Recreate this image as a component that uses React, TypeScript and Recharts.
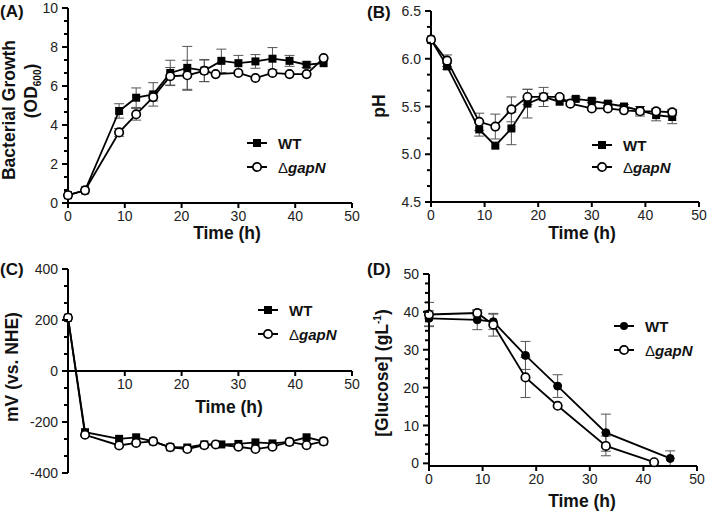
import React from 'react';
import { LineChart, Line, XAxis, YAxis, ErrorBar, ReferenceLine } from 'recharts';

// (A) bacterial growth, OD600
const growthWtTime = [0, 3, 9, 12, 15, 18, 21, 24, 27, 30, 33, 36, 39, 42, 45];
const growthWt = [0.4, 0.65, 4.72, 5.4, 5.57, 6.67, 6.93, 6.79, 7.29, 7.17, 7.26, 7.4, 7.29, 7.09, 7.17];
const growthWtErr = [0, 0, 0.37, 0.5, 0.6, 0.65, 1.1, 0.57, 0.6, 0.4, 0.35, 0.57, 0.28, 0.15, 0];
const growthGapTime = [0, 3, 9, 12, 15, 18, 21, 24, 26, 30, 33, 36, 39, 42, 45];
const growthGap = [0.4, 0.65, 3.62, 4.55, 5.43, 6.5, 6.55, 6.78, 6.61, 6.67, 6.41, 6.67, 6.61, 6.61, 7.43];
const growthGapErr = [0, 0, 0.2, 0.3, 0.2, 0.45, 0.77, 0.55, 0, 0, 0, 0, 0, 0, 0];

// (B) pH
const phWtTime = [0, 3, 9, 12, 15, 18, 21, 24, 27, 30, 33, 36, 39, 42, 45];
const phWt = [6.2, 5.92, 5.26, 5.09, 5.27, 5.53, 5.6, 5.55, 5.58, 5.56, 5.53, 5.5, 5.46, 5.41, 5.39];
const phWtErr = [0, 0.03, 0.07, 0, 0.17, 0.15, 0.04, 0, 0.02, 0.02, 0.02, 0.02, 0.04, 0.06, 0.07];
const phGapTime = [0, 3, 9, 12, 15, 18, 21, 24, 26, 30, 33, 36, 39, 42, 45];
const phGap = [6.2, 5.98, 5.34, 5.29, 5.47, 5.6, 5.6, 5.6, 5.53, 5.48, 5.48, 5.46, 5.45, 5.45, 5.44];
const phGapErr = [0, 0.06, 0.09, 0.13, 0.13, 0.08, 0.1, 0.02, 0, 0, 0, 0, 0.05, 0.03, 0.03];

// (C) redox potential, mV vs. NHE
const mvWtTime = [0, 3, 9, 12, 15, 18, 21, 24, 27, 30, 33, 36, 39, 42, 45];
const mvWt = [209, -240, -266, -260, -276, -299, -300, -288, -288, -286, -280, -284, -278, -260, -276];
const mvWtErr = [0, 0, 0, 0, 0, 0, 0, 0, 0, 0, 0, 0, 0, 0, 0];
const mvGapTime = [0, 3, 9, 12, 15, 18, 21, 24, 26, 30, 33, 36, 39, 42, 45];
const mvGap = [209, -250, -292, -282, -276, -299, -306, -291, -288, -297, -306, -297, -278, -291, -276];
const mvGapErr = [0, 0, 0, 0, 0, 0, 0, 0, 0, 0, 0, 0, 0, 0, 0];

// (D) glucose, g/L
const gluWtTime = [0, 9, 12, 18, 24, 33, 45];
const gluWt = [38.3, 37.9, 37.4, 28.5, 20.4, 8.1, 1.3];
const gluWtErr = [2, 2.6, 2, 3.7, 3, 4.9, 2];
const gluGapTime = [0, 9, 12, 18, 24, 33, 42];
const gluGap = [39.3, 39.7, 36.6, 22.7, 15.2, 4.6, 0.3];
const gluGapErr = [3.2, 0.8, 3, 5.3, 0, 2.6, 0];

// axes
const timeTicks = [0, 10, 20, 30, 40, 50];
const timeTicksNoZero = [10, 20, 30, 40, 50];
const growthTicks = [0, 2, 4, 6, 8, 10];
const phTicks = [4.5, 5.0, 5.5, 6.0, 6.5];
const mvTicks = [-400, -200, 0, 200, 400];
const gluTicks = [0, 10, 20, 30, 40, 50];

const FONT = '"Liberation Sans", Arial, sans-serif';

type Marker = 'square' | 'open' | 'filled';
type Series = { name: string; t: number[]; v: number[]; e: number[]; marker: Marker };
type Box = { left: number; top: number; right: number; bottom: number };

const withMinor = (majors: number[], n: number) => {
  const out: number[] = [];
  for (let i = 0; i < majors.length; i++) {
    out.push(majors[i]);
    if (i < majors.length - 1) {
      const step = (majors[i + 1] - majors[i]) / (n + 1);
      for (let k = 1; k <= n; k++) out.push(majors[i] + step * k);
    }
  }
  return out;
};

const YTick = (props: any) => {
  const { x, y, payload, majors, fmt } = props;
  const major = majors.some((m: number) => Math.abs(m - payload.value) < 1e-6);
  return (
    <g>
      <line x1={x - (major ? 6 : 4)} x2={x} y1={y} y2={y} stroke="#000" strokeWidth={2} />
      {major && (
        <text x={x - 10} y={y} dy="0.36em" textAnchor="end" fontSize={14} fill="#222" fontFamily={FONT}>
          {fmt(payload.value)}
        </text>
      )}
    </g>
  );
};

const XTick = (props: any) => {
  const { x, y, payload, shift } = props;
  const yy = y - shift;
  return (
    <g>
      <line x1={x} x2={x} y1={yy} y2={yy + 5} stroke="#000" strokeWidth={2} />
      <text x={x} y={yy + 18} textAnchor="middle" fontSize={14} fill="#222" fontFamily={FONT}>
        {payload.value}
      </text>
    </g>
  );
};

const SquareDot = (p: any) =>
  p.cx == null ? <g key={p.key} /> : <rect key={p.key} x={p.cx - 4} y={p.cy - 4} width={8} height={8} fill="#000" />;

const dotFor = (m: Marker) => {
  if (m === 'square') return SquareDot;
  if (m === 'filled') return { r: 4, fill: '#000', stroke: '#000', strokeWidth: 1 };
  return { r: 4.2, fill: '#fff', stroke: '#000', strokeWidth: 1.7 };
};

type PanelProps = {
  box: Box;
  xTicks: number[];
  yMajors: number[];
  yMinor: number;
  yFmt: (v: number) => string;
  series: Series[];
  zeroAxis?: boolean;
};

const Panel = ({ box, xTicks, yMajors, yMinor, yFmt, series, zeroAxis }: PanelProps) => {
  const plotW = box.right - box.left;
  const plotH = box.bottom - box.top;
  const yMin = yMajors[0];
  const yMax = yMajors[yMajors.length - 1];
  const shift = zeroAxis ? (plotH * (0 - yMin)) / (yMax - yMin) : 0;
  return (
    <div style={{ position: 'absolute', left: box.left - 70, top: box.top - 20 }}>
      <LineChart width={plotW + 80} height={plotH + 50} margin={{ top: 20, right: 10, bottom: 0, left: 0 }}>
        <XAxis
          type="number"
          dataKey="t"
          domain={[0, 50]}
          ticks={xTicks}
          interval={0}
          height={30}
          tickSize={0}
          tickMargin={0}
          axisLine={zeroAxis ? false : { stroke: '#000', strokeWidth: 2 }}
          tick={(p: any) => <XTick {...p} shift={shift} />}
        />
        <YAxis
          type="number"
          domain={[yMin, yMax]}
          ticks={withMinor(yMajors, yMinor)}
          interval={0}
          width={70}
          tickSize={0}
          tickMargin={0}
          axisLine={{ stroke: '#000', strokeWidth: 2 }}
          tick={(p: any) => <YTick {...p} majors={yMajors} fmt={yFmt} />}
        />
        {zeroAxis && <ReferenceLine y={0} stroke="#000" strokeWidth={2} />}
        {series.map((s) => (
          <Line
            key={s.name}
            data={s.t.map((t, i) => ({ t, v: s.v[i], e: s.e[i] }))}
            dataKey="v"
            name={s.name}
            stroke="#000"
            strokeWidth={1.8}
            dot={dotFor(s.marker) as any}
            isAnimationActive={false}
          >
            <ErrorBar dataKey="e" direction="y" width={5} strokeWidth={1} stroke="#555" />
          </Line>
        ))}
      </LineChart>
    </div>
  );
};

const Label = ({ x, y, children, size = 17.5, rotate = false, weight = 700 }: any) => (
  <div
    style={{
      position: 'absolute',
      left: x,
      top: y,
      transform: `translate(-50%, -50%)${rotate ? ' rotate(-90deg)' : ''}`,
      fontFamily: FONT,
      fontWeight: weight,
      fontSize: size,
      whiteSpace: 'nowrap',
      color: '#111',
      lineHeight: 1,
    }}
  >
    {children}
  </div>
);

const PanelTag = ({ x, y, text }: any) => (
  <div
    style={{
      position: 'absolute',
      left: x,
      top: y,
      transform: 'translateY(-50%)',
      fontFamily: FONT,
      fontWeight: 700,
      fontSize: 17,
      lineHeight: 1,
      color: '#111',
    }}
  >
    {text}
  </div>
);

const LegendRow = ({ x, y, marker, children }: any) => (
  <div style={{ position: 'absolute', left: x, top: y - 10, height: 20, display: 'flex', alignItems: 'center' }}>
    <svg width={20} height={20}>
      <line x1={0} x2={20} y1={10} y2={10} stroke="#000" strokeWidth={2} />
      {marker === 'square' && <rect x={6} y={6} width={8} height={8} fill="#000" />}
      {marker === 'filled' && <circle cx={10} cy={10} r={4} fill="#000" />}
      {marker === 'open' && <circle cx={10} cy={10} r={4.2} fill="#fff" stroke="#000" strokeWidth={1.7} />}
    </svg>
    <span style={{ marginLeft: 11, fontFamily: FONT, fontWeight: 700, fontSize: 15, color: '#111', whiteSpace: 'nowrap' }}>
      {children}
    </span>
  </div>
);

const GapName = () => (
  <span>
    <span style={{ fontWeight: 400 }}>Δ</span>
    <i>gapN</i>
  </span>
);

const Legend2 = ({ x, y1, y2, wtMarker }: any) => (
  <>
    <LegendRow x={x} y={y1} marker={wtMarker}>WT</LegendRow>
    <LegendRow x={x} y={y2} marker="open"><GapName /></LegendRow>
  </>
);

export default function App() {
  const seriesA: Series[] = [
    { name: 'WT', t: growthWtTime, v: growthWt, e: growthWtErr, marker: 'square' },
    { name: 'gapN', t: growthGapTime, v: growthGap, e: growthGapErr, marker: 'open' },
  ];
  const seriesB: Series[] = [
    { name: 'WT', t: phWtTime, v: phWt, e: phWtErr, marker: 'square' },
    { name: 'gapN', t: phGapTime, v: phGap, e: phGapErr, marker: 'open' },
  ];
  const seriesC: Series[] = [
    { name: 'WT', t: mvWtTime, v: mvWt, e: mvWtErr, marker: 'square' },
    { name: 'gapN', t: mvGapTime, v: mvGap, e: mvGapErr, marker: 'open' },
  ];
  const seriesD: Series[] = [
    { name: 'WT', t: gluWtTime, v: gluWt, e: gluWtErr, marker: 'filled' },
    { name: 'gapN', t: gluGapTime, v: gluGap, e: gluGapErr, marker: 'open' },
  ];

  return (
    <div style={{ position: 'absolute', left: 0, top: 0, width: 709, height: 512, background: '#fff', overflow: 'hidden' }}>
      <Panel box={{ left: 68, top: 8, right: 352, bottom: 203 }} xTicks={timeTicks} yMajors={growthTicks} yMinor={2}
        yFmt={(v) => String(v)} series={seriesA} />
      <Panel box={{ left: 431, top: 11, right: 699, bottom: 202 }} xTicks={timeTicks} yMajors={phTicks} yMinor={2}
        yFmt={(v) => v.toFixed(1)} series={seriesB} />
      <Panel box={{ left: 68, top: 269, right: 352, bottom: 473 }} xTicks={timeTicksNoZero} yMajors={mvTicks} yMinor={2}
        yFmt={(v) => String(v)} series={seriesC} zeroAxis />
      <Panel box={{ left: 429, top: 274, right: 697, bottom: 466 }} xTicks={timeTicks} yMajors={gluTicks} yMinor={3}
        yFmt={(v) => String(v)} series={seriesD} />

      <PanelTag x={0} y={11} text="(A)" />
      <PanelTag x={367} y={12} text="(B)" />
      <PanelTag x={0} y={269} text="(C)" />
      <PanelTag x={367} y={269} text="(D)" />

      <Label x={227} y={234}>Time (h)</Label>
      <Label x={582} y={234}>Time (h)</Label>
      <Label x={229} y={408}>Time (h)</Label>
      <Label x={582} y={502}>Time (h)</Label>

      <Label x={10} y={110} rotate>Bacterial Growth</Label>
      <Label x={33} y={91} rotate>(OD<sub style={{ fontSize: 10 }}>600</sub>)</Label>
      <Label x={380} y={106} rotate>pH</Label>
      <Label x={13} y={367} rotate>mV (vs. NHE)</Label>
      <Label x={382} y={373} rotate>[Glucose] (gL<sup style={{ fontSize: 10 }}>-1</sup>)</Label>

      <Legend2 x={247} y1={143} y2={167} wtMarker="square" />
      <Legend2 x={592} y1={145} y2={167} wtMarker="square" />
      <Legend2 x={258} y1={310} y2={334} wtMarker="square" />
      <Legend2 x={614} y1={326} y2={350} wtMarker="filled" />
    </div>
  );
}
